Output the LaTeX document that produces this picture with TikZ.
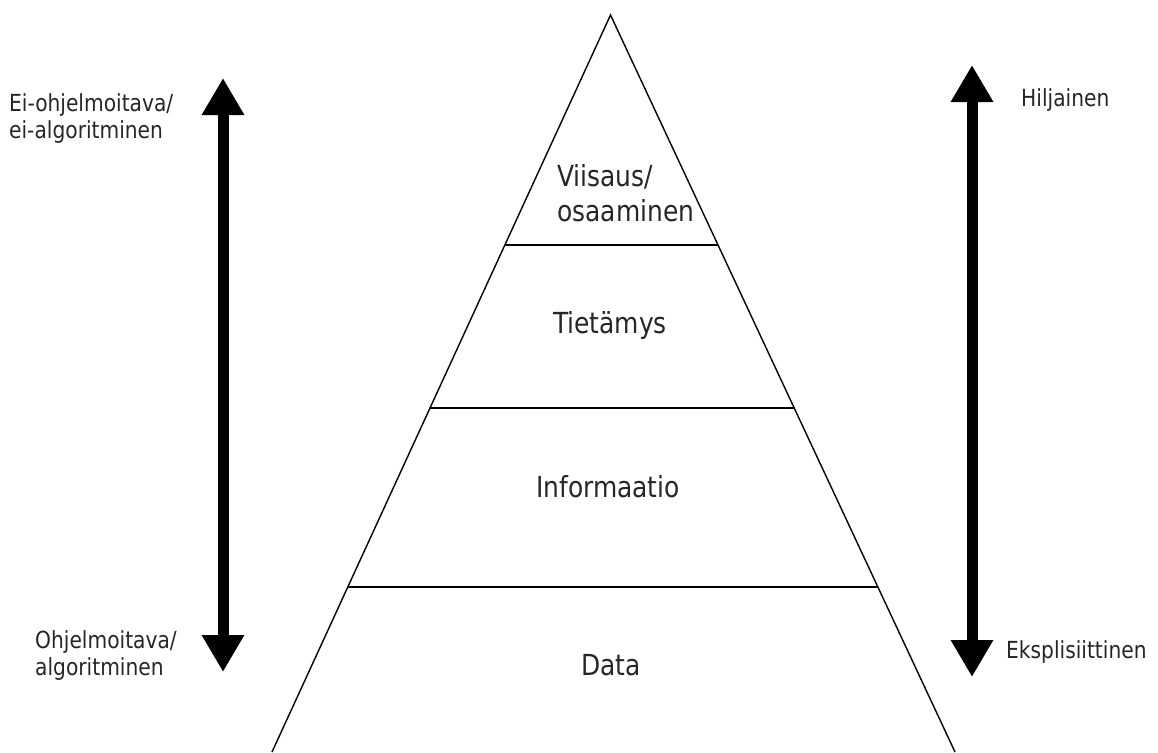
\documentclass[tikz,border=0pt]{standalone}
\usepackage{fontspec}
\setmainfont{DejaVu Sans}[FakeStretch=0.86]
\usetikzlibrary{arrows.meta}
\tikzset{
  outline/.style={line width=1.4pt, black},
  level/.style={line width=2.6pt, black},
  bigarrow/.style={line width=11pt, {Triangle[width=40pt,length=37pt]}-{Triangle[width=40pt,length=37pt]}},
  biglabel/.style={font=\fontsize{29}{35}\selectfont, inner sep=0pt, text=black!85},
  sidelabel/.style={font=\fontsize{23.5}{27}\selectfont, inner sep=0pt, align=left, text=black!85},
}
\begin{document}
\begin{tikzpicture}[x=1pt,y=-1pt]
\useasboundingbox (0,0) rectangle (1158,752);
\begin{scope}
\clip (0,0) rectangle (1158,752);
\coordinate (apex) at (610.5,15);
\coordinate (bl) at (272,752);
\coordinate (br) at (955,752);
\draw[outline] (bl) -- (apex) -- (br);
\end{scope}
% levels
\coordinate (l1a) at (505,245); \coordinate (l1b) at (718,245);
\coordinate (l2a) at (430,408); \coordinate (l2b) at (794,408);
\coordinate (l3a) at (348,587); \coordinate (l3b) at (878,587);
\draw[level] (l1a) -- (l1b);
\draw[level] (l2a) -- (l2b);
\draw[level] (l3a) -- (l3b);
% labels in pyramid
\node[biglabel, anchor=west, align=left] (viisaus) at (557,193) {Viisaus/\\osaaminen};
\node[biglabel] (tieto) at (610,325) {Tietämys};
\node[biglabel] (info) at (608,487) {Informaatio};
\node[biglabel] (data) at (611,665) {Data};
% arrows
\coordinate (la1) at (223,78); \coordinate (la2) at (223,672);
\coordinate (ra1) at (972,65); \coordinate (ra2) at (972,677);
\draw[bigarrow] (la1) -- (la2);
\draw[bigarrow] (ra1) -- (ra2);
% side labels
\node[sidelabel, anchor=west] (eiohj) at (9,119) {Ei-ohjelmoitava/\\ei-algoritminen};
\node[sidelabel, anchor=west] (ohj) at (35,656) {Ohjelmoitava/\\algoritminen};
\node[sidelabel, anchor=west] (hilj) at (1021,100) {Hiljainen};
\node[sidelabel, anchor=west] (eks) at (1006,652) {Eksplisiittinen};
\end{tikzpicture}
\end{document}
